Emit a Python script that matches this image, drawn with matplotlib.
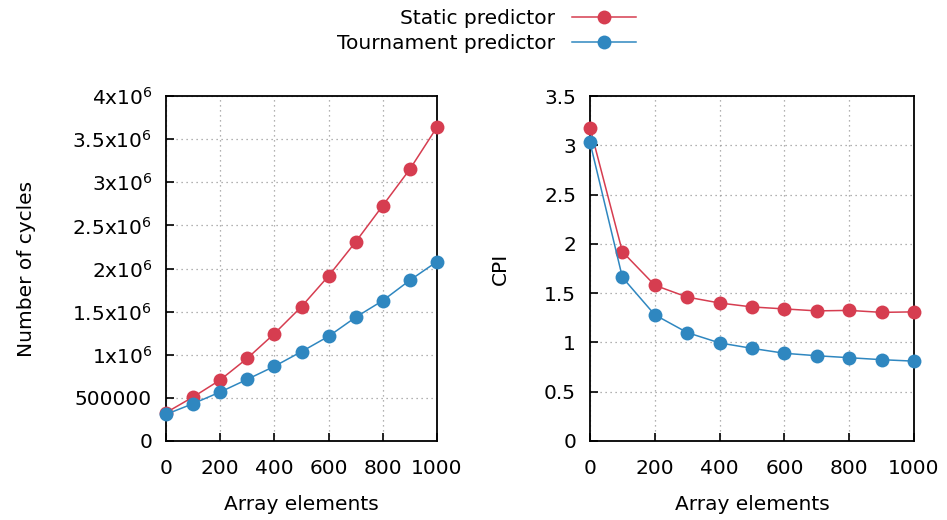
import matplotlib
matplotlib.use("Agg")
import matplotlib.pyplot as plt
from matplotlib.lines import Line2D

plt.rcParams['font.family'] = ['DejaVu Sans']
plt.rcParams['font.size'] = 14.5

# Array sizes measured
elements = [0, 100, 200, 300, 400, 500, 600, 700, 800, 900, 1000]

# Total cycles
cycles_static = [329000, 510000, 708000, 959000, 1245000, 1558000, 1914000,
                 2309000, 2730000, 3152000, 3639000]
cycles_tournament = [309000, 433000, 568000, 715000, 866000, 1036000, 1214000,
                     1435000, 1628000, 1864000, 2080000]

# Cycles per instruction
cpi_static = [3.18, 1.92, 1.58, 1.46, 1.40, 1.36, 1.34, 1.32, 1.325, 1.305, 1.31]
cpi_tournament = [3.03, 1.66, 1.28, 1.10, 0.995, 0.94, 0.89, 0.865, 0.845, 0.825, 0.81]

series_labels = ["Static predictor", "Tournament predictor"]
x_ticks = [0, 200, 400, 600, 800, 1000]
cycles_ticks = [0, 500000, 1000000, 1500000, 2000000, 2500000, 3000000, 3500000, 4000000]
cycles_ticklabels = ["0", "500000", "1x10$^{6}$", "1.5x10$^{6}$", "2x10$^{6}$",
                     "2.5x10$^{6}$", "3x10$^{6}$", "3.5x10$^{6}$", "4x10$^{6}$"]
cpi_ticks = [0, 0.5, 1, 1.5, 2, 2.5, 3, 3.5]
cpi_ticklabels = ["0", "0.5", "1", "1.5", "2", "2.5", "3", "3.5"]

RED = "#d63d50"
BLUE = "#2f87c0"
style = dict(lw=1.1, marker="o", markersize=10, markeredgewidth=0)

fig = plt.figure(figsize=(9.47, 5.2), dpi=100)
ax1 = fig.add_axes([166 / 947, 1 - 441 / 520, (437 - 166) / 947, (441 - 96) / 520])
ax2 = fig.add_axes([590 / 947, 1 - 441 / 520, (914 - 590) / 947, (441 - 96) / 520])


def style_axes(ax):
    for sp in ax.spines.values():
        sp.set_linewidth(1.3)
        sp.set_color("black")
    ax.tick_params(direction="in", length=6, width=1.2,
                   top=False, right=False, labelsize=14.5)
    ax.tick_params(axis="x", pad=13)
    ax.tick_params(axis="y", pad=10)
    ax.grid(True, linestyle=(0, (1, 3)), color="#999999", linewidth=0.9)
    ax.set_axisbelow(True)
    ax.set_xlim(0, 1000)
    ax.set_xticks(x_ticks)
    ax.set_xlabel("Array elements", fontsize=14.5, labelpad=12)


ax1.plot(elements, cycles_static, color=RED, clip_on=False, zorder=3, **style)
ax1.plot(elements, cycles_tournament, color=BLUE, clip_on=False, zorder=3, **style)
style_axes(ax1)
ax1.set_ylim(0, 4000000)
ax1.set_yticks(cycles_ticks)
ax1.set_yticklabels(cycles_ticklabels)
ax1.set_ylabel("Number of cycles", fontsize=14.5, labelpad=26)

ax2.plot(elements, cpi_static, color=RED, clip_on=False, zorder=3, **style)
ax2.plot(elements, cpi_tournament, color=BLUE, clip_on=False, zorder=3, **style)
style_axes(ax2)
ax2.set_ylim(0, 3.5)
ax2.set_yticks(cpi_ticks)
ax2.set_yticklabels(cpi_ticklabels)
ax2.set_ylabel("CPI", fontsize=14.5, labelpad=25)

handles = [Line2D([], [], color=RED, **style), Line2D([], [], color=BLUE, **style)]
fig.legend(handles, series_labels, loc="upper center", bbox_to_anchor=(0.514, 1.017),
           frameon=False, markerfirst=False, handlelength=3.2, handletextpad=0.8,
           labelspacing=0.3, fontsize=14.5)

fig.savefig("out.png", dpi=100)
